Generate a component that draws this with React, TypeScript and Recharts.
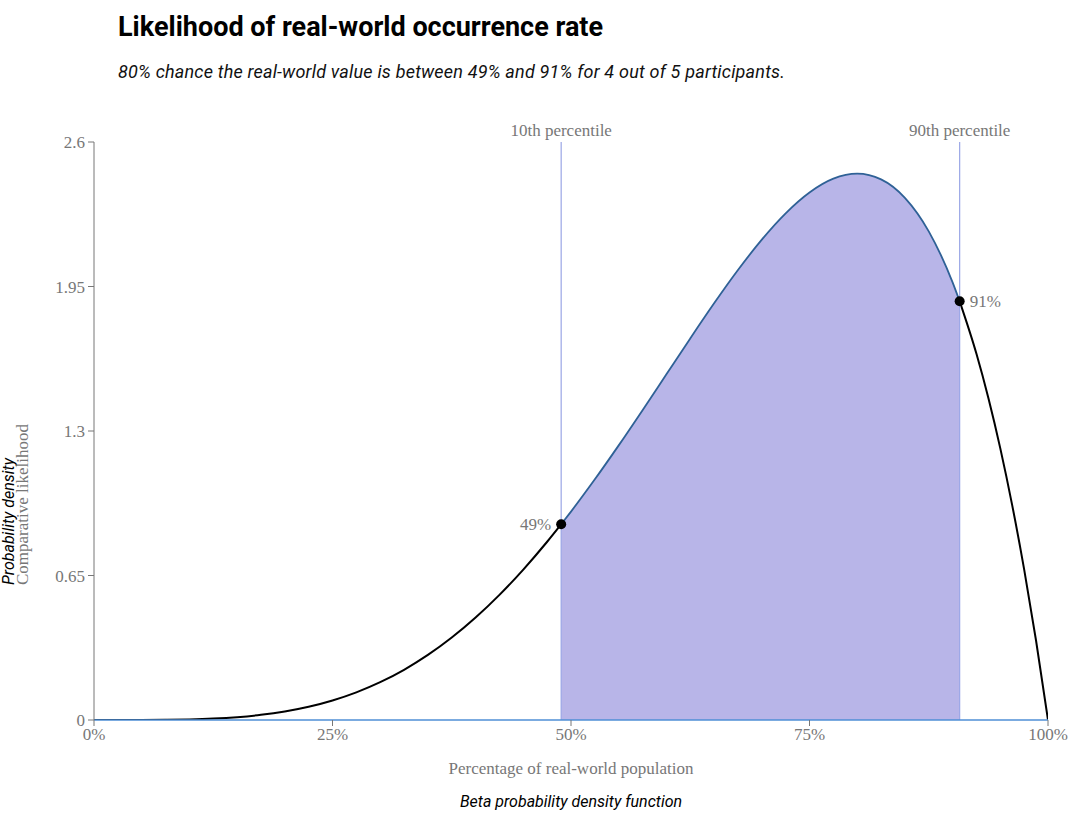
import React from 'react';
import {
  ComposedChart,
  Line,
  Area,
  XAxis,
  YAxis,
  ReferenceLine,
  ReferenceDot,
} from 'recharts';

// density curve (x = share of population, y = density)
const xValues = [
  0, 0.025, 0.05, 0.075, 0.1, 0.125, 0.15, 0.175, 0.2, 0.225, 0.25, 0.275, 0.3, 0.325, 0.35,
  0.375, 0.4, 0.425, 0.45, 0.475, 0.4897, 0.5, 0.525, 0.55, 0.575, 0.6, 0.625, 0.65, 0.675,
  0.7, 0.725, 0.75, 0.775, 0.8, 0.825, 0.85, 0.875, 0.9, 0.9074, 0.925, 0.9375, 0.95, 0.9625,
  0.975, 0.9875, 1,
];
const densityValues = [
  0, 0.0, 0.0002, 0.001, 0.0027, 0.0064, 0.0129, 0.0232, 0.0384, 0.0596, 0.0879, 0.1244,
  0.1701, 0.2259, 0.2926, 0.3708, 0.4608, 0.5628, 0.6766, 0.8018, 0.8804, 0.9375, 1.0826,
  1.2353, 1.3937, 1.5552, 1.7166, 1.8743, 2.024, 2.1609, 2.2793, 2.373, 2.4351, 2.4576,
  2.4321, 2.349, 2.1982, 1.9683, 1.8833, 1.6472, 1.4484, 1.2218, 0.9655, 0.6778, 0.3566, 0,
];

const p10 = 0.4897;
const p90 = 0.9074;
const p10Density = 0.8804;
const p90Density = 1.8833;
const p10Label = '49%';
const p90Label = '91%';

const xTicks = [0, 0.25, 0.5, 0.75, 1];
const yTicks = [0, 0.65, 1.3, 1.95, 2.6];

// black line outside the 10th-90th band, shaded area inside it
const chartData = xValues.map((x, i) => ({
  x,
  left: x <= p10 ? densityValues[i] : null,
  right: x >= p90 ? densityValues[i] : null,
  band: x >= p10 && x <= p90 ? densityValues[i] : null,
}));

const serif = '"Liberation Serif", "DejaVu Serif", serif';
const sans = 'Roboto, "Noto Sans", sans-serif';
const gray = '#777777';

const tickStyle = { fontFamily: serif, fontSize: 17, fill: gray };

export default function App() {
  return (
    <div style={{ position: 'absolute', left: 0, top: 0, width: 1080, height: 839, background: '#fff' }}>
      <div
        style={{
          position: 'absolute',
          left: 118,
          top: 11,
          fontFamily: sans,
          fontWeight: 700,
          fontSize: 27,
          letterSpacing: 0,
          color: '#000',
          whiteSpace: 'nowrap',
        }}
      >
        Likelihood of real-world occurrence rate
      </div>
      <div
        style={{
          position: 'absolute',
          left: 118,
          top: 61,
          fontFamily: sans,
          fontStyle: 'italic',
          fontSize: 18,
          letterSpacing: 0.2,
          color: '#111',
          whiteSpace: 'nowrap',
        }}
      >
        80% chance the real-world value is between 49% and 91% for 4 out of 5 participants.
      </div>

      <ComposedChart
        width={1080}
        height={839}
        data={chartData}
        margin={{ top: 142, right: 32, bottom: 89, left: 34 }}
      >
        <XAxis
          type="number"
          dataKey="x"
          domain={[0, 1]}
          ticks={xTicks}
          tickFormatter={(v: number) => `${Math.round(v * 100)}%`}
          tick={tickStyle}
          tickSize={6}
          tickMargin={2}
          axisLine={{ stroke: '#4f8fd6', strokeWidth: 1.5 }}
          tickLine={{ stroke: gray }}
          height={30}
          allowDataOverflow
        />
        <YAxis
          type="number"
          domain={[0, 2.6]}
          ticks={yTicks}
          tick={tickStyle}
          tickSize={6}
          tickMargin={3}
          axisLine={{ stroke: gray }}
          tickLine={{ stroke: gray }}
          width={60}
          allowDataOverflow
        />
        <Area
          type="monotone"
          dataKey="band"
          fill="#b8b5e8"
          fillOpacity={1}
          stroke="#2f6196"
          strokeWidth={1.8}
          connectNulls={false}
          isAnimationActive={false}
        />
        <Line
          type="monotone"
          dataKey="left"
          stroke="#000"
          strokeWidth={2}
          dot={false}
          connectNulls={false}
          isAnimationActive={false}
        />
        <Line
          type="monotone"
          dataKey="right"
          stroke="#000"
          strokeWidth={2}
          dot={false}
          connectNulls={false}
          isAnimationActive={false}
        />
        <ReferenceLine
          x={p10}
          stroke="#9aa6e6"
          strokeWidth={1.2}
          label={{ value: '10th percentile', position: 'top', offset: 6, style: tickStyle }}
        />
        <ReferenceLine
          x={p90}
          stroke="#9aa6e6"
          strokeWidth={1.2}
          label={{ value: '90th percentile', position: 'top', offset: 6, style: tickStyle }}
        />
        <ReferenceDot
          x={p10}
          y={p10Density}
          r={5}
          fill="#000"
          stroke="none"
          label={{ value: p10Label, position: 'left', offset: 5, style: tickStyle }}
        />
        <ReferenceDot
          x={p90}
          y={p90Density}
          r={5}
          fill="#000"
          stroke="none"
          label={{ value: p90Label, position: 'right', offset: 5, style: tickStyle }}
        />
      </ComposedChart>

      <svg style={{ position: 'absolute', left: 0, top: 0 }} width={40} height={839}>
        <text
          x={14}
          y={585}
          transform="rotate(-90, 14, 585)"
          style={{ fontFamily: sans, fontStyle: 'italic', fontSize: 16, fill: '#000' }}
        >
          Probability density
        </text>
        <text
          x={28}
          y={585}
          transform="rotate(-90, 28, 585)"
          style={{ fontFamily: serif, fontSize: 17, fill: gray }}
        >
          Comparative likelihood
        </text>
      </svg>

      <div
        style={{
          position: 'absolute',
          left: 571,
          top: 759,
          transform: 'translateX(-50%)',
          fontFamily: serif,
          fontSize: 17,
          color: gray,
          whiteSpace: 'nowrap',
        }}
      >
        Percentage of real-world population
      </div>
      <div
        style={{
          position: 'absolute',
          left: 571,
          top: 792,
          transform: 'translateX(-50%)',
          fontFamily: sans,
          fontStyle: 'italic',
          fontSize: 16,
          color: '#000',
          whiteSpace: 'nowrap',
        }}
      >
        Beta probability density function
      </div>
    </div>
  );
}
